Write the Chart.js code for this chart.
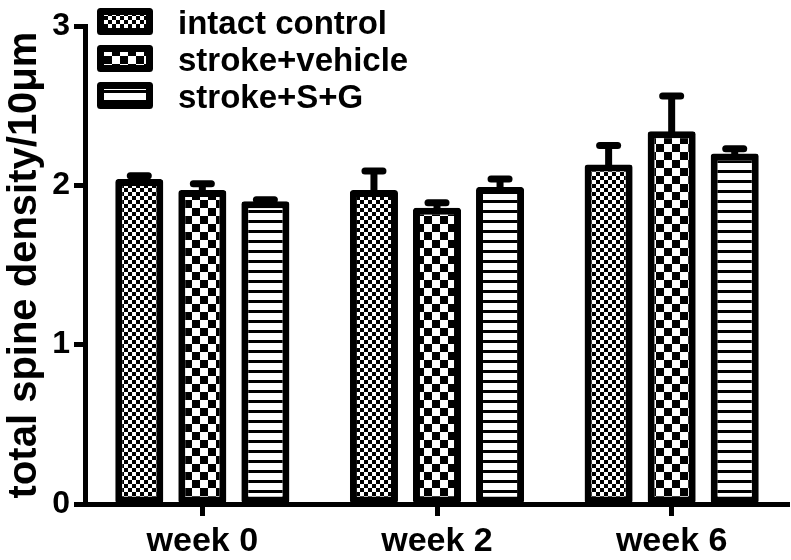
<!DOCTYPE html>
<html>
<head>
<meta charset="utf-8">
<script src="https://cdn.jsdelivr.net/npm/chart.js"></script>
<style>
body{margin:0;background:#fff;}
</style>
</head>
<body>
<canvas id="myChart" width="791" height="560"></canvas>
<script>
// data (bar top = mean, error bar = upper SEM)
const weeks = ['week 0', 'week 2', 'week 6'];
const groupNames = ['intact control', 'stroke+vehicle', 'stroke+S+G'];
const intactMean = [2.04, 1.97, 2.13];
const intactErr = [0.02, 0.12, 0.12];
const vehicleMean = [1.97, 1.86, 2.34];
const vehicleErr = [0.04, 0.03, 0.22];
const sgMean = [1.90, 1.99, 2.20];
const sgErr = [0.01, 0.05, 0.03];
const yTicks = [0, 1, 2, 3];

const FONT = "'Liberation Sans', Arial, sans-serif";

// fill patterns
function makePattern(type){
	let c = document.createElement('canvas');
	let g = c.getContext('2d');
	if(type == 'fine'){
		c.width = 8; c.height = 8;
		g.fillStyle = '#fff'; g.fillRect(0,0,8,8);
		g.fillStyle = '#000'; g.fillRect(0,0,4,4); g.fillRect(4,4,4,4);
	}else if(type == 'coarse'){
		c.width = 16; c.height = 16;
		g.fillStyle = '#fff'; g.fillRect(0,0,16,16);
		g.fillStyle = '#000'; g.fillRect(0,0,8,8); g.fillRect(8,8,8,8);
	}else{
		c.width = 10; c.height = 10;
		g.fillStyle = '#fff'; g.fillRect(0,0,10,10);
		g.fillStyle = '#000'; g.fillRect(0,0,10,3);
	}
	return document.getElementById('myChart').getContext('2d').createPattern(c, 'repeat');
}

const patterns = [makePattern('fine'), makePattern('coarse'), makePattern('stripe')];
const errs = [intactErr, vehicleErr, sgErr];

// upper error bars
const errorBars = {
	id : 'errorBars',
	afterDatasetsDraw(chart){
		let ctx = chart.ctx;
		let y = chart.scales.y;
		ctx.save();
		ctx.strokeStyle = '#000';
		chart.data.datasets.forEach((ds, i) => {
			chart.getDatasetMeta(i).data.forEach((bar, j) => {
				let top = y.getPixelForValue(ds.data[j] + errs[i][j]);
				ctx.lineWidth = 7;
				ctx.lineCap = 'butt';
				ctx.beginPath();
				ctx.moveTo(bar.x, bar.y + 4);
				ctx.lineTo(bar.x, top);
				ctx.stroke();
				ctx.lineCap = 'round';
				ctx.beginPath();
				ctx.moveTo(bar.x - 9, top);
				ctx.lineTo(bar.x + 9, top);
				ctx.stroke();
			});
		});
		ctx.restore();
	}
};

// legend in the top left corner of the plot
const boxLegend = {
	id : 'boxLegend',
	afterDraw(chart){
		let ctx = chart.ctx;
		ctx.save();
		groupNames.forEach((name, i) => {
			let bx = 97, by = 8 + i * 37, bw = 56, bh = 27;
			ctx.fillStyle = patterns[i];
			ctx.fillRect(bx + 2, by + 2, bw - 4, bh - 4);
			ctx.lineWidth = 7;
			ctx.strokeStyle = '#000';
			ctx.lineJoin = 'round';
			ctx.strokeRect(bx + 3.5, by + 3.5, bw - 7, bh - 7);
			ctx.fillStyle = '#000';
			ctx.font = 'bold 33px ' + FONT;
			ctx.textBaseline = 'middle';
			ctx.textAlign = 'left';
			ctx.fillText(name, 178, by + bh / 2 + 3);
		});
		ctx.restore();
	}
};

const means = [intactMean, vehicleMean, sgMean];

const chartBars = new Chart(document.getElementById('myChart'), {
	type : 'bar',
	data : {
		labels : weeks,
		datasets : groupNames.map((name, i) => ({
			label : name,
			data : means[i],
			backgroundColor : patterns[i],
			borderColor : '#000',
			borderWidth : 7,
			borderRadius : 3,
			borderSkipped : false,
			categoryPercentage : 0.806,
			barPercentage : 0.762
		}))
	},
	options : {
		responsive : false,
		animation : false,
		layout : { padding : { top : 26, right : 2 } },
		plugins : {
			legend : { display : false },
			tooltip : { enabled : false }
		},
		scales : {
			x : {
				grid : { offset : false, drawOnChartArea : false, tickLength : 12, tickWidth : 5, tickColor : '#000' },
				border : { color : '#000', width : 5 },
				ticks : { color : '#000', font : { family : FONT, size : 34, weight : 'bold' }, padding : 5 },
				afterFit : (s) => { s.height = 56; }
			},
			y : {
				min : 0,
				max : 3,
				afterBuildTicks : (s) => { s.ticks = yTicks.map(v => ({ value : v })); },
				grid : { drawOnChartArea : false, tickLength : 11, tickWidth : 5, tickColor : '#000' },
				border : { color : '#000', width : 5 },
				ticks : { color : '#000', font : { family : FONT, size : 32, weight : 'bold' }, padding : 4 },
				title : {
					display : true,
					text : 'total spine density/10μm',
					color : '#000',
					font : { family : FONT, size : 40, weight : 'bold', lineHeight : 1.2 },
					padding : { top : 1, bottom : 0 }
				},
				afterFit : (s) => { s.width = 85; }
			}
		}
	},
	plugins : [errorBars, boxLegend]
});
console.log(chartBars.chartArea);
</script>
</body>
</html>
